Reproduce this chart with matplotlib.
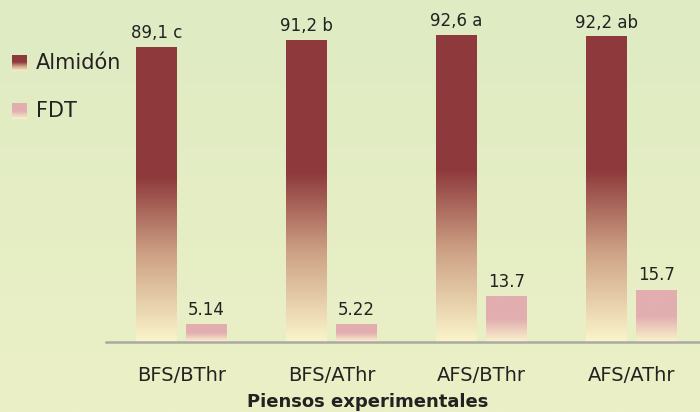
import numpy as np
import matplotlib.pyplot as plt
from matplotlib.colors import LinearSegmentedColormap

piensos = ["BFS/BThr", "BFS/AThr", "AFS/BThr", "AFS/AThr"]
almidon = [89.1, 91.2, 92.6, 92.2]
almidon_txt = ["89,1 c", "91,2 b", "92,6 a", "92,2 ab"]
fdt = [5.14, 5.22, 13.7, 15.7]
fdt_txt = ["5.14", "5.22", "13.7", "15.7"]

def rgb(r, g, b):
    return (r / 255, g / 255, b / 255)

# gradients go bottom (0) -> top (1)
cm_alm = LinearSegmentedColormap.from_list(
    "alm", [(0, rgb(251, 245, 203)), (0.3, rgb(205, 160, 132)),
            (0.56, rgb(142, 58, 60)), (1, rgb(142, 58, 60))], N=1024)
cm_fdt = LinearSegmentedColormap.from_list(
    "fdt", [(0, rgb(250, 243, 205)), (0.5, rgb(226, 174, 176)),
            (1, rgb(226, 174, 176))], N=1024)
grad = np.linspace(0, 1, 1024).reshape(-1, 1)

fig = plt.figure(figsize=(7, 4.12), dpi=100)

# soft background
bg = fig.add_axes([0, 0, 1, 1], zorder=-10)
bgcm = LinearSegmentedColormap.from_list("bg", [rgb(236, 240, 198), rgb(222, 235, 195)])
bg.imshow(grad, cmap=bgcm, origin="lower", aspect="auto", extent=[0, 1, 0, 1],
          interpolation="bilinear")
bg.set_axis_off()

ax = fig.add_axes([106 / 700, 70 / 412, 594 / 700, 342 / 412])
ax.patch.set_alpha(0)

x = np.arange(len(piensos))
w = 0.273
off = 0.1667

def gradient_bar(xc, h, cmap):
    ax.imshow(grad, cmap=cmap, origin="lower", aspect="auto", interpolation="bilinear",
              extent=[xc - w / 2, xc + w / 2, 0, h], zorder=2)

for i in range(len(piensos)):
    gradient_bar(x[i] - off, almidon[i], cm_alm)
    gradient_bar(x[i] + off, fdt[i], cm_fdt)
    ax.text(x[i] - off, almidon[i] + 1.5, almidon_txt[i], ha="center", va="bottom",
            fontsize=12, color="#222222")
    ax.text(x[i] + off, fdt[i] + 1.8, fdt_txt[i], ha="center", va="bottom",
            fontsize=12, color="#222222")

ax.set_xlim(-0.503, 3.457)
ax.set_ylim(0, 103.3)
ax.set_xticks(x)
ax.set_xticklabels(piensos, fontsize=14, color="#222222")
ax.tick_params(axis="x", length=0, pad=17)
ax.set_yticks([])
for s in ["top", "right", "left"]:
    ax.spines[s].set_visible(False)
ax.spines["bottom"].set_color("#aaaaa2")
ax.spines["bottom"].set_linewidth(1.8)

fig.text(368 / 700, 1 - 402 / 412, "Piensos experimentales", ha="center", va="center",
         fontsize=13, fontweight="bold", color="#222222")

# legend
for ypix, cmap, label in [(55, cm_alm, "Almidón"), (103, cm_fdt, "FDT")]:
    sw = fig.add_axes([12 / 700, 1 - (ypix + 16) / 412, 15 / 700, 16 / 412])
    sw.imshow(grad, cmap=cmap, origin="lower", aspect="auto", interpolation="bilinear")
    sw.set_axis_off()
    fig.text(36 / 700, 1 - (ypix + 8) / 412, label, ha="left", va="center",
             fontsize=15, color="#222222")

fig.savefig("out.png", dpi=100)
